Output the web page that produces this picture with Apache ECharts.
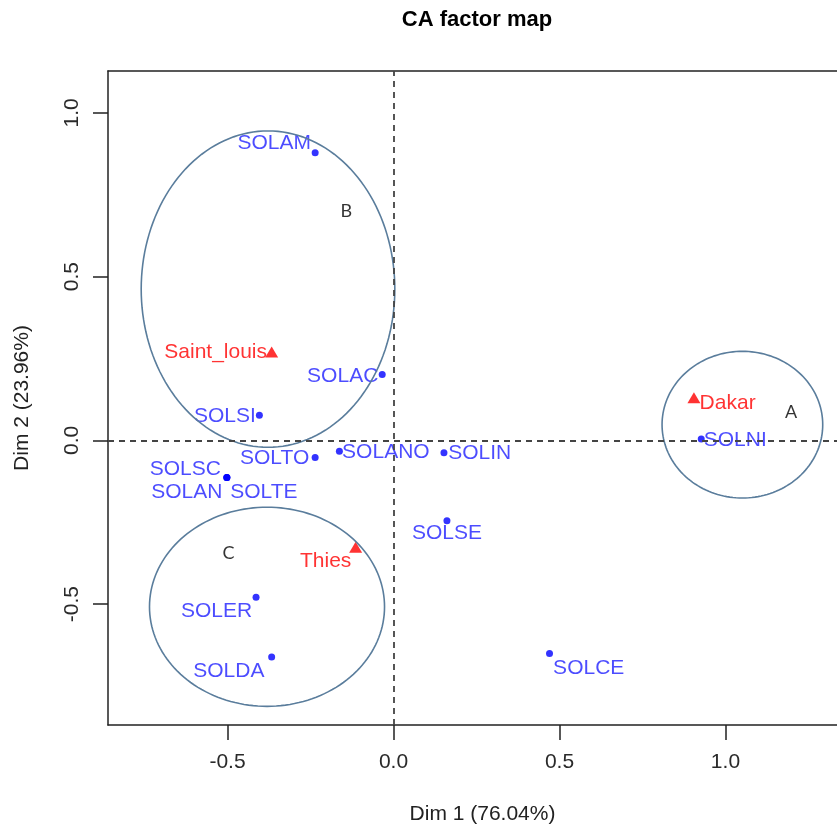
<!DOCTYPE html>
<html>
<head>
<meta charset="utf-8">
<title>CA factor map</title>
<script src="https://cdn.jsdelivr.net/npm/echarts@6/dist/echarts.min.js"></script>
<style>
  html, body { margin: 0; padding: 0; background: #fff; }
  #chart { width: 837px; height: 830px; }
</style>
</head>
<body>
<div id="chart"></div>
<script>
// Column categories (soil types) on the first two CA dimensions
const colNames = ['SOLAM', 'SOLAC', 'SOLSI', 'SOLTO', 'SOLANO', 'SOLIN', 'SOLSC', 'SOLAN', 'SOLTE', 'SOLSE', 'SOLER', 'SOLDA', 'SOLCE', 'SOLNI'];
const colDim1 = [-0.236, -0.034, -0.404, -0.236, -0.163, 0.152, -0.502, -0.502, -0.502, 0.161, -0.414, -0.367, 0.470, 0.927];
const colDim2 = [0.878, 0.201, 0.077, -0.052, -0.033, -0.038, -0.113, -0.113, -0.113, -0.245, -0.479, -0.661, -0.651, 0.004];

// Row categories (regions)
const rowNames = ['Saint_louis', 'Thies', 'Dakar'];
const rowDim1 = [-0.367, -0.114, 0.905];
const rowDim2 = [0.270, -0.326, 0.130];

// Group ellipses: centre and radii in axis units, plus the group letter position
const groupNames = ['A', 'B', 'C'];
const groupCx = [1.051, -0.378, -0.381];
const groupCy = [0.048, 0.462, -0.508];
const groupRx = [0.242, 0.382, 0.354];
const groupRy = [0.224, 0.483, 0.304];
const groupLabelX = [1.198, -0.142, -0.497];
const groupLabelY = [0.085, 0.701, -0.345];

// Axis ticks
const dim1Ticks = [-0.5, 0.0, 0.5, 1.0];
const dim2Ticks = [-0.5, 0.0, 0.5, 1.0];

// Text placement around each point (pixels, relative to the marker centre)
const labelOffsets = {
  SOLAM: [-41, -9.5], SOLAC: [-39.5, 2], SOLSI: [-34.5, 1], SOLTO: [-40.5, 0.5],
  SOLANO: [46.5, 1.3], SOLIN: [35.7, 0], SOLSC: [-41.5, -8.7], SOLAN: [-40, 14.7],
  SOLTE: [37, 14.7], SOLSE: [0, 12.7], SOLER: [-39.5, 14], SOLDA: [-42.8, 14],
  SOLCE: [39.2, 14.8], SOLNI: [34, 1.6],
  Saint_louis: [-56, 0], Thies: [-30, 13.6], Dakar: [33.7, 5]
};

const FONT = '"Liberation Sans", Arial, sans-serif';
const BLUE = '#0000ff';
const BLUE_TEXT = '#1f1fff';
const RED = '#ff0000';
const FRAME = '#222';

function pointItems(names, xs, ys) {
  return names.map((n, i) => ({ name: n, value: [xs[i], ys[i]] }));
}

function shiftLabel(names) {
  return function (params) {
    const off = labelOffsets[names[params.dataIndex]] || [0, 0];
    return { dx: off[0], dy: off[1] };
  };
}

const ellipseData = groupNames.map((g, i) => [groupCx[i], groupCy[i], groupRx[i], groupRy[i]]);
const groupLabelData = groupNames.map((g, i) => ({ name: g, value: [groupLabelX[i], groupLabelY[i]] }));

const chart = echarts.init(document.getElementById('chart'), null, { renderer: 'canvas' });

const X_MIN = -0.86, X_MAX = 1.336;
const Y_MIN = -0.869, Y_MAX = 1.128;

chart.setOption({
  animation: false,
  backgroundColor: '#ffffff',
  title: {
    text: 'CA factor map',
    left: 477,
    top: 9,
    padding: 0,
    textAlign: 'center',
    textStyle: { fontFamily: FONT, fontWeight: 'bold', fontSize: 22, color: '#000' }
  },
  grid: { left: 108, top: 71, right: 0, bottom: 100, show: false },
  xAxis: [
    {
      type: 'value',
      min: X_MIN, max: X_MAX,
      position: 'bottom',
      name: 'Dim 1 (76.04%)',
      nameLocation: 'middle',
      nameGap: 79,
      nameTextStyle: { fontFamily: FONT, fontSize: 21, color: '#222', padding: [0, 0, 0, 20] },
      axisLine: { show: true, onZero: false, lineStyle: { color: FRAME, width: 1.5 } },
      splitLine: { show: false },
      axisTick: { show: true, inside: false, length: 15, customValues: dim1Ticks, lineStyle: { color: FRAME, width: 1.5 } },
      axisLabel: {
        customValues: dim1Ticks, margin: 27,
        fontFamily: FONT, fontSize: 21, color: '#2a2a2a',
        formatter: v => Number(v).toFixed(1)
      }
    },
    {
      // top edge of the plot frame
      type: 'value',
      min: X_MIN, max: X_MAX,
      position: 'top',
      axisLine: { show: true, onZero: false, lineStyle: { color: FRAME, width: 1.5 } },
      axisTick: { show: false },
      axisLabel: { show: false },
      splitLine: { show: false }
    }
  ],
  yAxis: {
    type: 'value',
    min: Y_MIN, max: Y_MAX,
    name: 'Dim 2 (23.96%)',
    nameLocation: 'middle',
    nameGap: 75,
    nameTextStyle: { fontFamily: FONT, fontSize: 21, color: '#222' },
    axisLine: { show: true, onZero: false, lineStyle: { color: FRAME, width: 1.5 } },
    splitLine: { show: false },
    axisTick: { show: true, inside: false, length: 15, customValues: dim2Ticks, lineStyle: { color: FRAME, width: 1.5 } },
    axisLabel: {
      customValues: dim2Ticks, margin: 25, rotate: 90,
      fontFamily: FONT, fontSize: 21, color: '#2a2a2a',
      formatter: v => Number(v).toFixed(1)
    }
  },
  series: [
    {
      // soil types
      type: 'scatter',
      data: pointItems(colNames, colDim1, colDim2),
      symbol: 'circle',
      symbolSize: 7,
      itemStyle: { color: BLUE },
      label: {
        show: true, position: 'inside', formatter: '{b}',
        fontFamily: FONT, fontSize: 21, color: BLUE_TEXT
      },
      labelLayout: shiftLabel(colNames),
      markLine: {
        silent: true,
        symbol: ['none', 'none'],
        label: { show: false },
        lineStyle: { type: [6, 5], color: '#444', width: 1.8 },
        data: [{ xAxis: 0 }, { yAxis: 0 }]
      },
      z: 3
    },
    {
      // regions
      type: 'scatter',
      data: pointItems(rowNames, rowDim1, rowDim2),
      symbol: 'triangle',
      symbolSize: [13, 11],
      itemStyle: { color: RED },
      label: {
        show: true, position: 'inside', formatter: '{b}',
        fontFamily: FONT, fontSize: 21, color: RED
      },
      labelLayout: shiftLabel(rowNames),
      z: 3
    },
    {
      // group outlines
      type: 'custom',
      data: ellipseData,
      renderItem: function (params, api) {
        const cx = api.value(0), cy = api.value(1), rx = api.value(2), ry = api.value(3);
        const pts = [];
        const n = 160;
        for (let k = 0; k < n; k++) {
          const t = (k / n) * Math.PI * 2;
          pts.push(api.coord([cx + rx * Math.cos(t), cy + ry * Math.sin(t)]));
        }
        return {
          type: 'polygon',
          shape: { points: pts },
          style: { fill: 'none', stroke: '#5a7d9c', lineWidth: 1.6 },
          silent: true
        };
      },
      z: 4
    },
    {
      // group letters
      type: 'scatter',
      data: groupLabelData,
      symbolSize: 0,
      label: {
        show: true, position: 'inside', formatter: '{b}',
        fontFamily: 'Lato, "Open Sans", sans-serif', fontSize: 18, color: '#000'
      },
      z: 5
    }
  ]
});
</script>
</body>
</html>
